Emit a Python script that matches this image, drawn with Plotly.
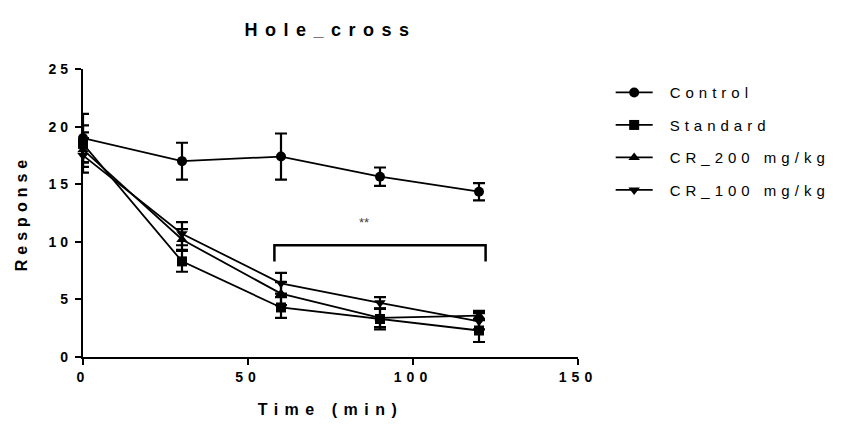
import plotly.graph_objects as go

time_min = [0, 30, 60, 90, 120]
series_names = ["Control", "Standard", "CR_200 mg/kg", "CR_100 mg/kg"]
control = [19.0, 17.0, 17.4, 15.65, 14.35]
control_err = [2.1, 1.6, 2.0, 0.8, 0.75]
standard = [18.5, 8.3, 4.3, 3.3, 2.3]
standard_err = [1.6, 0.9, 0.9, 0.9, 1.0]
cr200 = [18.0, 10.2, 5.5, 3.4, 3.6]
cr200_err = [1.5, 0.9, 1.0, 0.8, 0.4]
cr100 = [17.5, 10.7, 6.4, 4.7, 3.1]
cr100_err = [1.5, 1.0, 0.9, 0.5, 0.7]
symbols = ["circle", "square", "triangle-up", "triangle-down"]

bracket_x = [58, 122]
bracket_top = 9.7
bracket_bottom = 8.3
sig_label = "**"
sig_x = 85
sig_y = 11.7

x_ticks = [0, 50, 100, 150]
y_ticks = [0, 5, 10, 15, 20, 25]

values = [control, standard, cr200, cr100]
errors = [control_err, standard_err, cr200_err, cr100_err]

fig = go.Figure()
for name, v, e, sym in zip(series_names, values, errors, symbols):
    fig.add_trace(go.Scatter(
        x=time_min, y=v, name=name, mode="lines+markers",
        line=dict(color="black", width=1.8),
        marker=dict(symbol=sym, size=10, color="black"),
        error_y=dict(type="data", array=e, visible=True, color="black",
                     thickness=2.2, width=6),
        cliponaxis=False, legendgroup=name,
    ))

fig.add_trace(go.Scatter(
    x=[bracket_x[0], bracket_x[0], bracket_x[1], bracket_x[1]],
    y=[bracket_bottom, bracket_top, bracket_top, bracket_bottom],
    mode="lines", line=dict(color="black", width=2.5),
    showlegend=False, hoverinfo="skip", cliponaxis=False,
))

fig.add_annotation(x=sig_x, y=sig_y, text=sig_label, showarrow=False,
                   font=dict(family="Liberation Sans", size=13, color="#444444"))

fig.update_layout(
    width=848, height=426,
    paper_bgcolor="white", plot_bgcolor="white",
    margin=dict(l=83, r=270, t=69, b=69),
    title=dict(text="<b>Hole_cross</b>", x=0.5, xref="paper", xanchor="center",
               y=1 - 30 / 426, yref="container", yanchor="middle",
               font=dict(family="Liberation Sans", size=18, color="black")),
    font=dict(family="Liberation Sans", color="black"),
    legend=dict(x=1.066, y=0.975, xanchor="left", yanchor="top",
                font=dict(family="Liberation Sans", size=15, color="black"),
                tracegroupgap=10, itemwidth=37, bgcolor="rgba(0,0,0,0)"),
    showlegend=True,
)
fig.update_xaxes(
    range=[0, 150], tickvals=x_ticks, showgrid=False, zeroline=False,
    showline=True, linecolor="black", linewidth=2.2, automargin=False,
    ticks="outside", ticklen=6, tickwidth=2.2, tickcolor="black",
    tickfont=dict(family="Liberation Sans", size=14, color="black", weight="bold"),
    title=dict(text="<b>Time (min)</b>", standoff=20,
               font=dict(family="Liberation Sans", size=16, color="black")),
)
fig.update_yaxes(
    range=[0, 25], tickvals=y_ticks, showgrid=False, zeroline=False,
    showline=True, linecolor="black", linewidth=2.2, automargin=False,
    ticks="outside", ticklen=6, tickwidth=2.2, tickcolor="black",
    tickfont=dict(family="Liberation Sans", size=14, color="black", weight="bold"),
    title=dict(text="<b>Response</b>", standoff=25,
               font=dict(family="Liberation Sans", size=16, color="black")),
)

post = """
var s=document.createElement('style');
s.innerHTML='html,body{margin:0;padding:0} .gtitle{letter-spacing:7.5px} .legendtext{letter-spacing:5px;transform:translateX(12px)} .legend .scrollbox{clip-path:none !important} .xtick text{letter-spacing:5px} .ytick text{letter-spacing:4px} .xtitle{letter-spacing:6.5px} .ytitle{letter-spacing:5px}';
document.head.appendChild(s);
"""
fig.write_html("out.html", post_script=post, config={"displayModeBar": False})
